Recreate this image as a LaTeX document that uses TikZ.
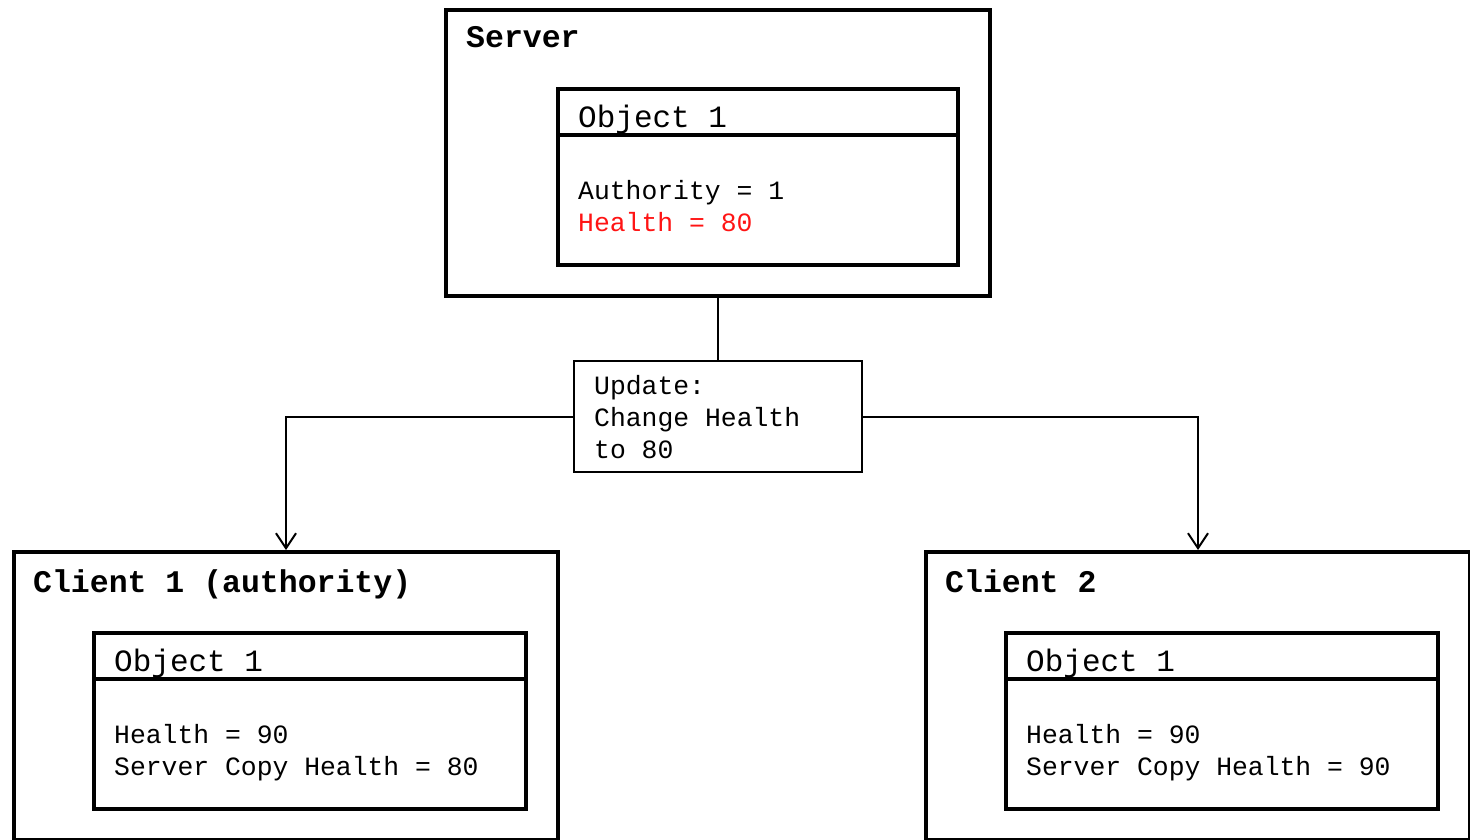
\documentclass[tikz,border=0pt]{standalone}
\usepackage{fontspec}
\newfontfamily\cour{Liberation Mono}
\usetikzlibrary{arrows.meta}
\tikzset{
  outerbox/.style={draw=black, line width=4pt, inner sep=0pt, anchor=north west, minimum width=544pt, minimum height=286pt},
  clientbox/.style={outerbox, minimum height=288pt},
  objbox/.style={draw=black, line width=4pt, inner sep=0pt, anchor=north west, minimum width=400pt, minimum height=176pt},
  objboxwide/.style={objbox, minimum width=432pt},
  updbox/.style={draw=black, line width=2pt, inner sep=0pt, anchor=north west, minimum width=288pt, minimum height=111pt},
  divider/.style={line width=4pt},
  conn/.style={line width=2pt},
  arr/.style={line width=2pt, -{Straight Barb[length=15pt,width=20pt]}},
  titletxt/.style={inner sep=0pt, anchor=base west, font=\cour\bfseries\fontsize{31.5}{36}\selectfont},
  objtxt/.style={inner sep=0pt, anchor=base west, font=\cour\fontsize{31}{36}\selectfont},
  bodytxt/.style={inner sep=0pt, anchor=base west, font=\cour\fontsize{26.4}{32}\selectfont},
}
\definecolor{hred}{RGB}{255,20,20}
\begin{document}
\begin{tikzpicture}[x=1pt,y=-1pt]
\useasboundingbox (0,0) rectangle (1470,839);
\clip (0,0) rectangle (1470,839);
\fill[white] (0,0) rectangle (1470,839);

% Server
\node[outerbox] (server) at (444,8) {};
\node[titletxt] (serverlbl) at (466,47) {Server};
\node[objbox] (sobj) at (556,87) {};
\draw[divider] ([yshift=-48pt]sobj.north west) -- ([yshift=-48pt]sobj.north east);
\node[objtxt] (sobjt) at (578,127) {Object 1};
\node[bodytxt] (sauth) at (578,199.5) {Authority = 1};
\node[bodytxt, text=hred] (shealth) at (578,231) {Health = 80};

% Update
\node[updbox] (update) at (573,360) {};
\node[bodytxt] (up1) at (594,394) {Update:};
\node[bodytxt] (up2) at (594,426) {Change Health};
\node[bodytxt] (up3) at (594,458) {to 80};

% Client 1
\node[clientbox] (client1) at (12,550) {};
\node[titletxt] (c1lbl) at (33,592) {Client 1 (authority)};
\node[objboxwide] (c1obj) at (92,631) {};
\draw[divider] ([yshift=-48pt]c1obj.north west) -- ([yshift=-48pt]c1obj.north east);
\node[objtxt] (c1objt) at (114,671) {Object 1};
\node[bodytxt] (c1h) at (114,743) {Health = 90};
\node[bodytxt] (c1s) at (114,775) {Server Copy Health = 80};

% Client 2
\node[clientbox] (client2) at (924,550) {};
\node[titletxt] (c2lbl) at (945,592) {Client 2};
\node[objboxwide] (c2obj) at (1004,631) {};
\draw[divider] ([yshift=-48pt]c2obj.north west) -- ([yshift=-48pt]c2obj.north east);
\node[objtxt] (c2objt) at (1026,671) {Object 1};
\node[bodytxt] (c2h) at (1026,743) {Health = 90};
\node[bodytxt] (c2s) at (1026,775) {Server Copy Health = 90};

% Connectors
\draw[conn] (server.south) -- (update.north);
\draw[arr] (update.west) -| (client1.north);
\draw[arr] (update.east) -| (client2.north);
\end{tikzpicture}
\end{document}
